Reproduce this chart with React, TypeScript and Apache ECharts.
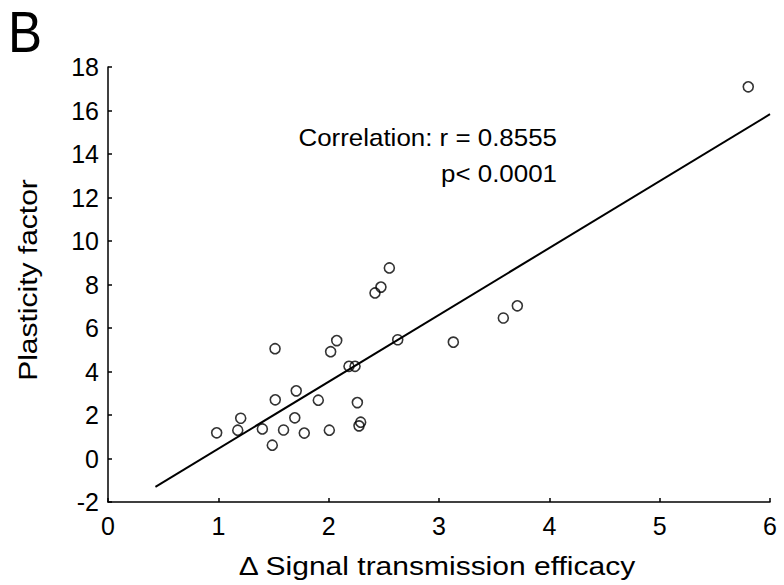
import React, { useEffect, useRef } from "react";
import * as echarts from "echarts";

// Data
const deltaEfficacy = [
  0.985, 1.176, 1.203, 1.399, 1.489, 1.516, 1.514, 1.591, 1.693, 1.706, 1.779,
  1.906, 2.006, 2.018, 2.073, 2.184, 2.239, 2.26, 2.275, 2.29, 2.42, 2.474,
  2.55, 2.626, 3.13, 3.583, 3.71, 5.803,
];
const plasticityFactor = [
  1.18, 1.3, 1.85, 1.36, 0.61, 2.7, 5.05, 1.31, 1.87, 3.11, 1.17, 2.68, 1.3,
  4.91, 5.42, 4.24, 4.24, 2.57, 1.5, 1.67, 7.61, 7.88, 8.76, 5.46, 5.35, 6.46,
  7.02, 17.09,
];
const fitLineX = [0.43, 6];
const fitLineY = [-1.3, 15.83];
const xRange = [0, 6];
const yRange = [-2, 18];
const panelLabel = "B";
const xAxisTitle = "Δ Signal transmission efficacy";
const yAxisTitle = "Plasticity factor";
const statLines = ["Correlation: r = 0.8555", "p< 0.0001"];

const FONT = "'Liberation Sans', Arial, Helvetica, sans-serif";

export default function App() {
  const ref = useRef<HTMLDivElement>(null);

  useEffect(() => {
    document.body.style.margin = "0";
    if (!ref.current) return;
    const chart = echarts.init(ref.current, undefined, { renderer: "svg" });

    const points = deltaEfficacy.map((x, i) => [x, plasticityFactor[i]]);
    const fit = fitLineX.map((x, i) => [x, fitLineY[i]]);

    const axisCommon = {
      axisLine: { show: true, onZero: false, lineStyle: { color: "#000", width: 1.5 } },
      axisTick: { show: true, inside: true, length: 4, lineStyle: { color: "#000", width: 1.5 } },
      splitLine: { show: false },
      axisLabel: {
        color: "#000",
        fontSize: 25,
        fontFamily: FONT,
        showMinLabel: true,
        showMaxLabel: true,
      },
    };

    chart.setOption({
      animation: false,
      backgroundColor: "#fff",
      grid: { left: 108, right: 14, top: 67, bottom: 83, containLabel: false },
      xAxis: {
        type: "value",
        min: xRange[0],
        max: xRange[1],
        interval: 1,
        ...axisCommon,
        axisLabel: { ...axisCommon.axisLabel, margin: 11 },
      },
      yAxis: {
        type: "value",
        min: yRange[0],
        max: yRange[1],
        interval: 2,
        ...axisCommon,
        axisLabel: { ...axisCommon.axisLabel, margin: 9 },
      },
      series: [
        {
          type: "line",
          data: fit,
          symbol: "none",
          lineStyle: { color: "#000", width: 2 },
          z: 2,
        },
        {
          type: "scatter",
          data: points,
          symbol: "circle",
          symbolSize: 10,
          itemStyle: { color: "rgba(255,255,255,0)", borderColor: "#000", borderWidth: 1.6 },
          z: 3,
        },
      ],
      graphic: [
        {
          type: "text",
          x: 8,
          y: 3,
          scaleX: 0.88,
          style: {
            text: panelLabel,
            fontSize: 58,
            fontFamily: FONT,
            fill: "#000",
            textAlign: "left",
            textVerticalAlign: "top",
          },
        },
        {
          type: "text",
          x: 557,
          y: 137,
          scaleX: 1.08,
          style: {
            text: statLines[0],
            fontSize: 24,
            fontFamily: FONT,
            fill: "#000",
            textAlign: "right",
            textVerticalAlign: "middle",
          },
        },
        {
          type: "text",
          x: 557,
          y: 173,
          scaleX: 1.08,
          style: {
            text: statLines[1],
            fontSize: 24,
            fontFamily: FONT,
            fill: "#000",
            textAlign: "right",
            textVerticalAlign: "middle",
          },
        },
        {
          type: "text",
          x: 437,
          y: 566,
          scaleX: 1.2,
          style: {
            text: xAxisTitle,
            fontSize: 25,
            fontFamily: FONT,
            fill: "#000",
            textAlign: "center",
            textVerticalAlign: "middle",
          },
        },
        {
          type: "text",
          x: 28,
          y: 280,
          rotation: Math.PI / 2,
          scaleX: 1.2,
          style: {
            text: yAxisTitle,
            fontSize: 25,
            fontFamily: FONT,
            fill: "#000",
            textAlign: "center",
            textVerticalAlign: "middle",
          },
        },
      ],
    });

    return () => chart.dispose();
  }, []);

  return <div ref={ref} style={{ width: 784, height: 585 }} />;
}
